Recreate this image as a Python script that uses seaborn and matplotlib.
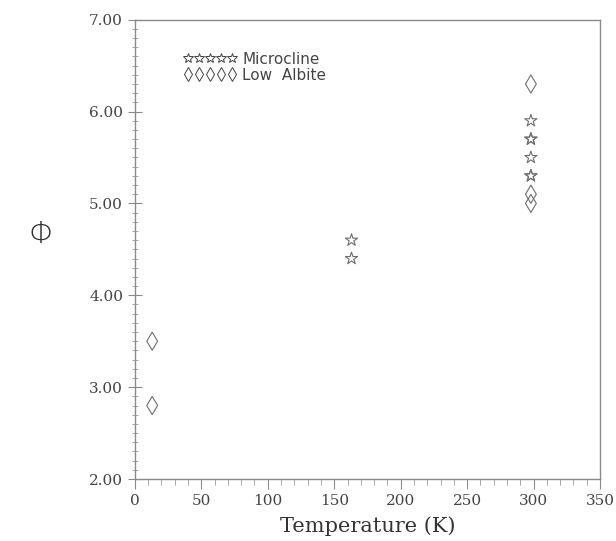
import matplotlib
matplotlib.use("Agg")
import matplotlib.pyplot as plt
import seaborn as sns
import pandas as pd
from matplotlib.lines import Line2D
from matplotlib.ticker import MultipleLocator, FormatStrFormatter

# Data
mic_T = [163, 163, 298, 298, 298, 298, 298, 298]
mic_phi = [4.6, 4.4, 5.9, 5.7, 5.7, 5.5, 5.3, 5.3]
alb_T = [13, 13, 298, 298, 298]
alb_phi = [3.5, 2.8, 6.3, 5.1, 5.0]
x_ticks = [0, 50, 100, 150, 200, 250, 300, 350]
y_ticks = [2.0, 3.0, 4.0, 5.0, 6.0, 7.0]

sns.set_style("white")
plt.rcParams['font.family'] = ['DejaVu Serif']

df_mic = pd.DataFrame({"T": mic_T, "phi": mic_phi})
df_alb = pd.DataFrame({"T": alb_T, "phi": alb_phi})

fig = plt.figure(figsize=(6.16, 5.41), dpi=100)
ax = fig.add_axes([0.219, 0.1146, 0.755, 0.849])

gray = "#6e6e6e"
sns.scatterplot(data=df_mic, x="T", y="phi", ax=ax, marker="*", s=85,
                facecolor="none", edgecolor=gray, linewidth=0.8, legend=False)
sns.scatterplot(data=df_alb, x="T", y="phi", ax=ax, marker="d", s=85,
                facecolor="none", edgecolor=gray, linewidth=0.8, legend=False)

ax.set_xlim(0, 350)
ax.set_ylim(2.0, 7.0)
ax.set_xticks(x_ticks)
ax.set_yticks(y_ticks)
ax.xaxis.set_minor_locator(MultipleLocator(10))
ax.yaxis.set_minor_locator(MultipleLocator(0.1))
ax.yaxis.set_major_formatter(FormatStrFormatter("%.2f"))

for sp in ax.spines.values():
    sp.set_color("#8a8a8a")
    sp.set_linewidth(1.0)

ax.tick_params(axis="x", which="major", direction="out", length=7, width=0.8,
               color="#8a8a8a", labelsize=11, labelcolor="#444444", bottom=True, top=False)
ax.tick_params(axis="x", which="minor", direction="out", length=4, width=0.6,
               color="#9a9a9a", bottom=True, top=False)
ax.tick_params(axis="y", which="major", direction="inout", length=10, width=0.8,
               color="#8a8a8a", labelsize=11, labelcolor="#444444", left=True, right=False)
ax.tick_params(axis="y", which="minor", direction="inout", length=5, width=0.6,
               color="#9a9a9a", left=True, right=False)

ax.set_xlabel("Temperature (K)", fontsize=15, color="#333333", labelpad=6)
ax.set_ylabel("Φ", fontsize=22, color="#333333", rotation=0, labelpad=40,
              family=["DejaVu Sans"], fontweight="light")
ax.yaxis.set_label_coords(-0.2, 0.5)

handles = [
    Line2D([], [], linestyle="none", marker="*", markersize=7.5, markerfacecolor="none",
           markeredgecolor="#444444", markeredgewidth=0.7),
    Line2D([], [], linestyle="none", marker="d", markersize=7.5, markerfacecolor="none",
           markeredgecolor="#444444", markeredgewidth=0.7),
]
leg = ax.legend(handles, ["Microcline", "Low  Albite"], loc="upper left",
                bbox_to_anchor=(0.075, 0.96), numpoints=5, handlelength=3.5,
                handletextpad=0.35, labelspacing=0.05, frameon=False,
                prop={"family": "DejaVu Sans", "size": 11})
for t in leg.get_texts():
    t.set_color("#444444")

fig.savefig("out.png", dpi=100)
